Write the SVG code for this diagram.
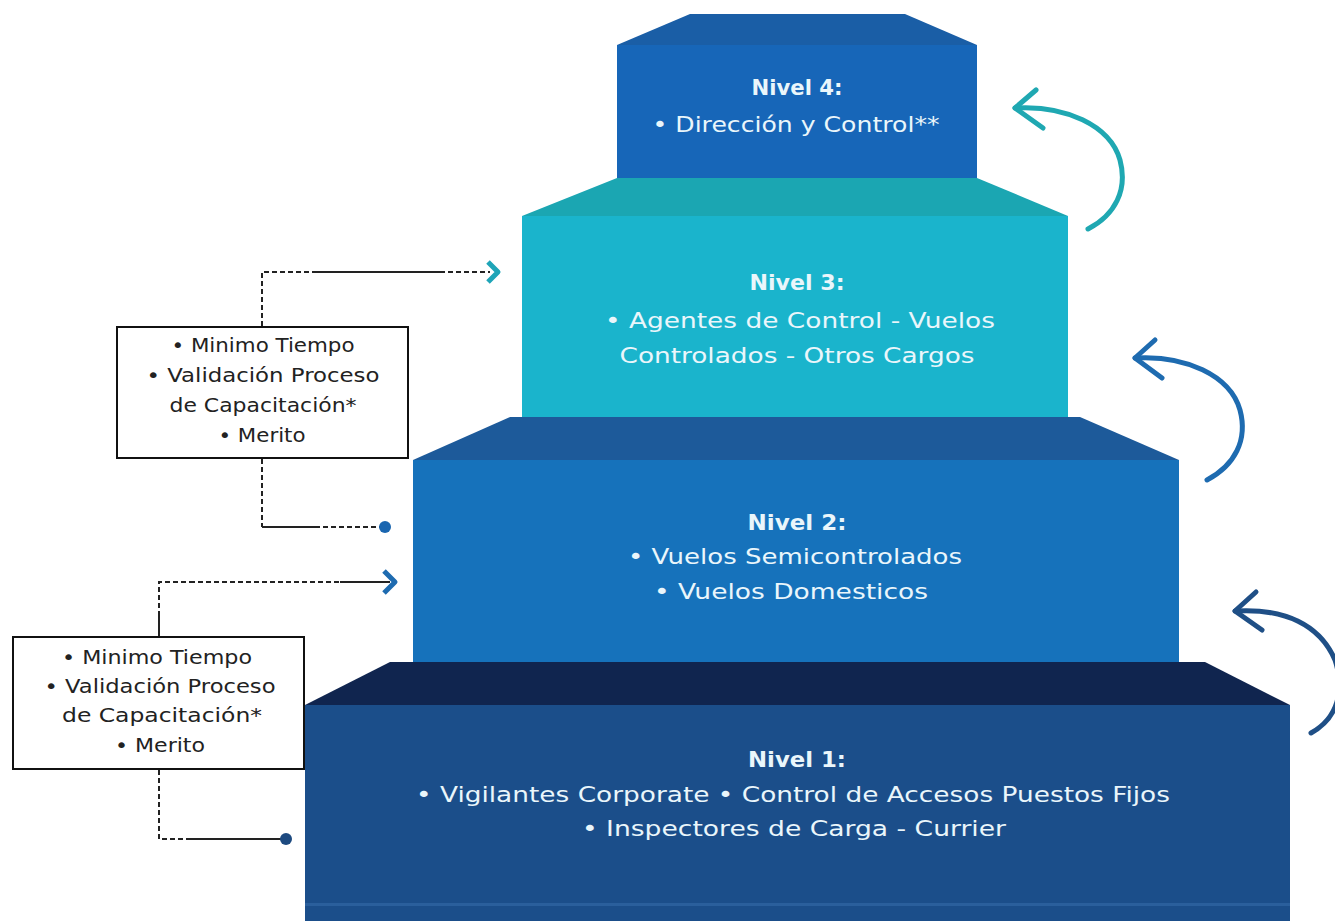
<svg xmlns="http://www.w3.org/2000/svg" width="1335" height="921" viewBox="0 0 1335 921">
<style>
.lt{font-family:"DejaVu Sans","Liberation Sans",sans-serif;font-size:22px;fill:#eaf6fb;text-anchor:middle}
.lh{font-weight:bold}
.bt{font-family:"DejaVu Sans","Liberation Sans",sans-serif;font-size:20px;fill:#222;text-anchor:middle}
.box{fill:#fff;stroke:#111;stroke-width:2}
.dash{fill:none;stroke:#222;stroke-width:2;stroke-dasharray:5 3}
.solid{fill:none;stroke:#222;stroke-width:2}
.curve{fill:none;stroke-width:5;stroke-linecap:round;stroke-linejoin:round}
</style>
<rect width="1335" height="921" fill="#ffffff"/>
<g id="nivel1">
<polygon points="305,705 390,662 1205,662 1290,705" fill="#10254f"/>
<rect x="305" y="705" width="985" height="216" fill="#1b4e8a"/>
<rect x="305" y="903" width="985" height="3" fill="#2a5f9c"/>
<text class="lt lh" x="797" y="767" textLength="98" lengthAdjust="spacingAndGlyphs">Nivel 1:</text>
<text class="lt" x="793" y="802" textLength="754" lengthAdjust="spacingAndGlyphs">• Vigilantes Corporate • Control de Accesos Puestos Fijos</text>
<text class="lt" x="794" y="836" textLength="424" lengthAdjust="spacingAndGlyphs">• Inspectores de Carga - Currier</text>
</g>
<g id="nivel2">
<polygon points="413,460 510,417 1080,417 1179,460" fill="#1d5a9a"/>
<rect x="413" y="460" width="766" height="202" fill="#1672bb"/>
<text class="lt lh" x="797" y="530" textLength="99" lengthAdjust="spacingAndGlyphs">Nivel 2:</text>
<text class="lt" x="795" y="564" textLength="334" lengthAdjust="spacingAndGlyphs">• Vuelos Semicontrolados</text>
<text class="lt" x="791" y="599" textLength="274" lengthAdjust="spacingAndGlyphs">• Vuelos Domesticos</text>
</g>
<g id="nivel3">
<polygon points="522,216 617,178 977,178 1068,216" fill="#1ba6b2"/>
<rect x="522" y="216" width="546" height="201" fill="#1ab4cc"/>
<text class="lt lh" x="797" y="290" textLength="95" lengthAdjust="spacingAndGlyphs">Nivel 3:</text>
<text class="lt" x="800" y="328" textLength="390" lengthAdjust="spacingAndGlyphs">• Agentes de Control - Vuelos</text>
<text class="lt" x="797" y="363" textLength="355" lengthAdjust="spacingAndGlyphs">Controlados - Otros Cargos</text>
</g>
<g id="nivel4">
<polygon points="617,45 690,14 905,14 977,45" fill="#1a5ea6"/>
<rect x="617" y="45" width="360" height="133" fill="#1766b8"/>
<text class="lt lh" x="797" y="95" textLength="91" lengthAdjust="spacingAndGlyphs">Nivel 4:</text>
<text class="lt" x="796" y="132" textLength="287" lengthAdjust="spacingAndGlyphs">• Dirección y Control**</text>
</g>
<g id="requisitos1">
<rect class="box" x="117" y="327" width="291" height="131"/>
<text class="bt" x="263" y="352" textLength="183" lengthAdjust="spacingAndGlyphs">• Minimo Tiempo</text>
<text class="bt" x="263" y="382" textLength="233" lengthAdjust="spacingAndGlyphs">• Validación Proceso</text>
<text class="bt" x="263" y="412" textLength="187" lengthAdjust="spacingAndGlyphs">de Capacitación*</text>
<text class="bt" x="262" y="442" textLength="87" lengthAdjust="spacingAndGlyphs">• Merito</text>
</g>
<g id="requisitos2">
<rect class="box" x="13" y="637" width="291" height="132"/>
<text class="bt" x="157" y="664" textLength="190" lengthAdjust="spacingAndGlyphs">• Minimo Tiempo</text>
<text class="bt" x="160" y="693" textLength="231" lengthAdjust="spacingAndGlyphs">• Validación Proceso</text>
<text class="bt" x="162" y="722" textLength="200" lengthAdjust="spacingAndGlyphs">de Capacitación*</text>
<text class="bt" x="160" y="752" textLength="90" lengthAdjust="spacingAndGlyphs">• Merito</text>
</g>
<g id="connectors">
<path class="dash" d="M262,326 V272 H313"/>
<path class="solid" d="M313,272 H440"/>
<path class="dash" d="M440,272 H490"/>
<path d="M488,262 L498,272 L488,282" fill="none" stroke="#1fa5b8" stroke-width="5" stroke-linejoin="round"/>
<path class="dash" d="M262,459 V527"/>
<path class="solid" d="M262,527 H315"/>
<path class="dash" d="M315,527 H380"/>
<circle cx="385" cy="527" r="6" fill="#1a66b0"/>
<path class="solid" d="M159,636 V616"/>
<path class="dash" d="M159,616 V582 H190"/>
<path class="dash" d="M190,582 H340"/>
<path class="solid" d="M340,582 H390"/>
<path d="M384,571 L395,582 L384,593" fill="none" stroke="#1e6bb0" stroke-width="5" stroke-linejoin="round"/>
<path class="dash" d="M159,770 V839 H190"/>
<path class="solid" d="M190,839 H282"/>
<circle cx="286" cy="839" r="6" fill="#1d4a80"/>
<path class="curve" stroke="#1fa8b2" d="M1088,229 C1115,215 1128,190 1120,160 C1110,125 1065,105 1015,108"/>
<path class="curve" stroke="#1fa8b2" d="M1036,90 L1015,108 L1043,128"/>
<path class="curve" stroke="#1e6bb0" d="M1207,480 C1235,465 1248,440 1240,410 C1230,375 1185,355 1135,358"/>
<path class="curve" stroke="#1e6bb0" d="M1155,340 L1135,358 L1162,378"/>
<path class="curve" stroke="#1f4f86" d="M1311,733 C1338,718 1345,690 1335,660 C1320,625 1285,608 1235,611"/>
<path class="curve" stroke="#1f4f86" d="M1256,592 L1235,611 L1262,630"/>
</g>
</svg>
